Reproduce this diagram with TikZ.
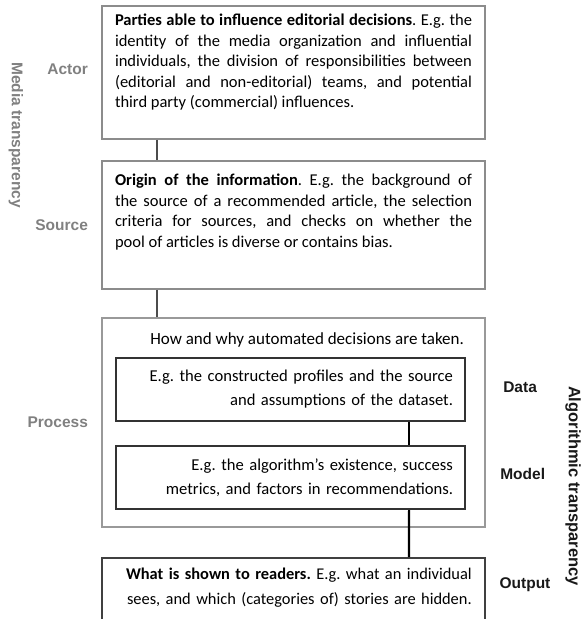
\documentclass[tikz,border=0pt]{standalone}
\usepackage{fontspec}
\setmainfont{Carlito}
\newfontfamily\labelfont{Liberation Sans}
\usetikzlibrary{positioning}
\frenchspacing

\begin{document}
\begin{tikzpicture}[x=1pt, y=-1pt]
	\tikzstyle{outer} = [ draw=black!45, line width=1.8pt, minimum width=383pt, inner sep=0pt];
	\tikzstyle{inner} = [ draw=black!80, line width=2.2pt, minimum width=349pt, minimum height=63pt, inner sep=0pt, text width=325pt, align=right, font={\fontsize{16.6}{24}\selectfont}];
	\tikzstyle{boxtext} = [ inner sep=0pt, text width=357pt, align=justify, font={\fontsize{16.5}{20.5}\selectfont}];
	\tikzstyle{mediatag} = [ inner sep=0pt, color=black!50, font={\labelfont\bfseries\fontsize{15.5}{18}\selectfont}];
	\tikzstyle{algotag} = [ inner sep=0pt, color=black!90, font={\labelfont\bfseries\fontsize{15.5}{18}\selectfont}];
	\tikzstyle{link} = [ draw=black!70, line width=1.5pt];
	\tikzstyle{algolink} = [ draw=black, line width=2.2pt];

	\useasboundingbox (0,0) rectangle (582,619);

	% media transparency
	\node[outer, minimum height=133pt] (actor) at (293.5,72.5) {};
	\node[outer, minimum height=128pt] (source) at (293.5,225) {};

	\node[boxtext, below=9pt of actor.north] (actortxt) {\textbf{Parties able to influence editorial decisions}. E.g. the\linebreak
		identity of the media organization and influential\linebreak
		individuals, the division of responsibilities between\linebreak
		(editorial and non-editorial) teams, and potential\linebreak
		third party (commercial) influences.};
	\node[boxtext, below=14pt of source.north] (sourcetxt) {\textbf{Origin of the information}. E.g. the background of\linebreak
		the source of a recommended article, the selection\linebreak
		criteria for sources, and checks on whether the\linebreak
		pool of articles is diverse or contains bias.};

	% algorithmic transparency
	\node[outer, draw=black!40, minimum height=209pt] (process) at (293.5,422.5) {};
	\node[inner] (data) at (290.5,389.5) {E.g. the constructed profiles and the source\\ and assumptions of the dataset.};
	\node[inner] (model) at (290.5,477.5) {E.g. the algorithm’s existence, success\\ metrics, and factors in recommendations.};
	\node[anchor=base east, inner sep=0pt, font={\fontsize{17}{24}\selectfont}] (proctitle) at ([xshift=-2pt, yshift=12pt]data.north east) {How and why automated decisions are taken.};

	\node[outer, draw=black!75, minimum height=70pt] (output) at (293.5,593) {};
	\node[boxtext, text width=375pt, align=right, font={\fontsize{16.4}{25}\selectfont}, anchor=north east] (outtxt) at ([xshift=-14pt, yshift=-11pt]output.north east) {\textbf{What is shown to readers.} E.g. what an individual\\ sees, and which (categories of) stories are hidden.};

	\draw[link] ([xshift=56pt]actor.south west) -- ([xshift=56pt]source.north west);
	\draw[link] ([xshift=56pt]source.south west) -- ([xshift=56pt]process.north west);
	\draw[algolink] ([xshift=-57pt]data.south east) -- ([xshift=-57pt]model.north east);
	\draw[algolink] ([xshift=-57pt]model.south east) -- ([xshift=-77pt]output.north east);

	% side labels
	\node[mediatag, left=13pt of actor, yshift=3.5pt] (actorlbl) {Actor};
	\node[mediatag, left=13pt of source] (sourcelbl) {Source};
	\node[mediatag, left=13pt of process] (processlbl) {Process};
	\node[algotag, right=37pt of data, yshift=2.5pt] (datalbl) {Data};
	\node[algotag, right=34pt of model, yshift=4pt] (modellbl) {Model};
	\node[algotag, right=27.5pt of outtxt, yshift=3.5pt] (outputlbl) {Output};

	\node[mediatag, rotate=-90] (mediatr) at (16,135) {Media transparency};
	\node[algotag, rotate=-90, font={\labelfont\bfseries\fontsize{16.5}{18}\selectfont}] (algotr) at (573,486) {Algorithmic transparency};
\end{tikzpicture}
\end{document}
